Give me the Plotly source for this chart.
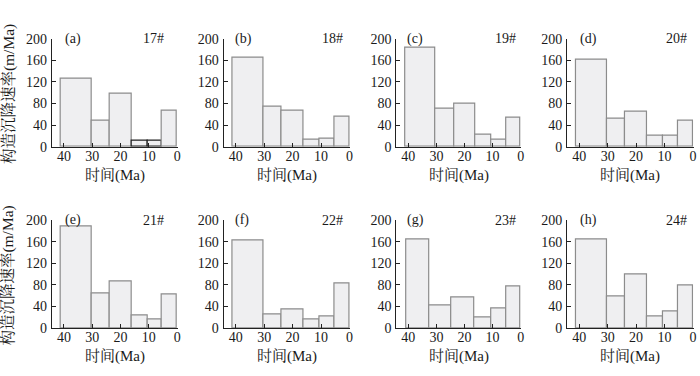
import plotly.graph_objects as go

# ---- data ----
panel_tags = ["(a)", "(b)", "(c)", "(d)", "(e)", "(f)", "(g)", "(h)"]
well_names = ["17#", "18#", "19#", "20#", "21#", "22#", "23#", "24#"]

# interval boundaries in Ma (old -> young)
edges_common = [41.2, 30.3, 23.8, 16.2, 10.4, 5.3, 0.0]
edges_g = [40.8, 32.7, 24.6, 16.6, 10.3, 5.2, 0.0]

rate_a = [126, 49, 98, 11, 11, 66]
rate_b = [165, 75, 66, 13, 15, 55]
rate_c = [183, 70, 80, 22, 13, 53]
rate_d = [161, 52, 64, 21, 20, 48]
rate_e = [188, 65, 86, 23, 15, 62]
rate_f = [163, 25, 34, 15, 22, 82]
rate_g = [165, 42, 57, 20, 36, 78]
rate_h = [165, 59, 100, 21, 30, 79]

x_ticks = [40, 30, 20, 10, 0]
y_ticks = [0, 40, 80, 120, 160, 200]

y_title = "构造沉降速率(m/Ma)"
x_title = "时间(Ma)"

rates = [rate_a, rate_b, rate_c, rate_d, rate_e, rate_f, rate_g, rate_h]
edges_list = [edges_common] * 6 + [edges_g, edges_common]

# ---- styling / layout ----
W, H = 700, 376
FONT = "Liberation Serif, 'Noto Serif CJK SC', 'Noto Sans CJK SC', serif"
TXT = "#1a1a1a"
FILL = "#efeff1"
EDGE = "#8c8c8c"

col_px = [(52, 178.5), (224.5, 351.5), (398, 523.5), (569.5, 696.5)]
row_px = [(33, 145.5), (222.3, 334.3)]  # (top y=200, bottom y=0) in pixels
tag_right = [0.905, 0.957, 0.972, 0.968]
tag_left = [0.087, 0.075, 0.067, 0.085]

fig = go.Figure()
layout = dict(
    width=W, height=H,
    margin=dict(l=0, r=0, t=0, b=0),
    paper_bgcolor="white", plot_bgcolor="white",
    showlegend=False,
    font=dict(family=FONT, size=14, color=TXT),
    annotations=[],
    bargap=0,
)

for i in range(8):
    r, c = divmod(i, 4)
    k = i + 1
    xa = "x" if k == 1 else f"x{k}"
    ya = "y" if k == 1 else f"y{k}"
    e = edges_list[i]
    mids = [(e[j] + e[j + 1]) / 2 for j in range(len(e) - 1)]
    widths = [e[j] - e[j + 1] for j in range(len(e) - 1)]
    line_cols = [EDGE] * len(mids)
    if i == 0:
        line_cols[3] = "#202020"
        line_cols[4] = "#202020"
    fig.add_trace(go.Bar(
        x=mids, y=rates[i], width=widths,
        marker=dict(color=FILL, line=dict(color=line_cols, width=1.2)),
        xaxis=xa, yaxis=ya, hoverinfo="skip",
    ))
    x0, x1 = col_px[c]
    ytop, ybot = row_px[r]
    axkey = "xaxis" if k == 1 else f"xaxis{k}"
    aykey = "yaxis" if k == 1 else f"yaxis{k}"
    layout[axkey] = dict(
        domain=[x0 / W, x1 / W], anchor=ya,
        range=[44.3, -0.2], tickvals=x_ticks, ticktext=[str(t) for t in x_ticks],
        ticks="inside", ticklen=4, tickwidth=1, tickcolor="#222",
        showline=True, linecolor="#222", linewidth=1.2,
        showgrid=False, zeroline=False,
        tickfont=dict(size=14, family=FONT, color=TXT),
        ticklabelstandoff=-4,
    )
    layout[aykey] = dict(
        domain=[1 - ybot / H, 1 - ytop / H], anchor=xa,
        range=[0, 200], tickvals=y_ticks,
        ticks="inside", ticklen=4, tickwidth=1, tickcolor="#222",
        showline=True, linecolor="#222", linewidth=1.2,
        showgrid=False, zeroline=False,
        tickfont=dict(size=14, family=FONT, color=TXT),
        ticklabelstandoff=1,
    )
    dom = "x" if k == 1 else f"x{k}"
    ydom = "y" if k == 1 else f"y{k}"
    layout["annotations"].append(dict(
        text=panel_tags[i], xref=f"{dom} domain", yref=f"{ydom} domain",
        x=tag_left[c], y=1.0, xanchor="left", yanchor="middle",
        showarrow=False, font=dict(size=14, family=FONT, color=TXT),
    ))
    layout["annotations"].append(dict(
        text=well_names[i], xref=f"{dom} domain", yref=f"{ydom} domain",
        x=tag_right[c], y=1.0, xanchor="right", yanchor="middle",
        showarrow=False, font=dict(size=14, family=FONT, color=TXT),
    ))
    layout["annotations"].append(dict(
        text=x_title, xref=f"{dom} domain", yref="paper",
        x=0.5, y=1 - (ybot + 30) / H, xanchor="center", yanchor="middle",
        showarrow=False, font=dict(size=15, family=FONT, color=TXT),
    ))

for r in range(2):
    ytop, ybot = row_px[r]
    layout["annotations"].append(dict(
        text=y_title, xref="paper", yref="paper",
        x=8.5 / W, y=1 - ((ytop + ybot) / 2 + 1) / H,
        xanchor="center", yanchor="middle", textangle=-90,
        showarrow=False, font=dict(size=15.5, family=FONT, color=TXT),
    ))

fig.update_layout(**layout)
fig.write_html(
    "out.html",
    config={"displayModeBar": False},
    post_script="document.body.style.margin='0';document.body.style.overflow='hidden';",
)
